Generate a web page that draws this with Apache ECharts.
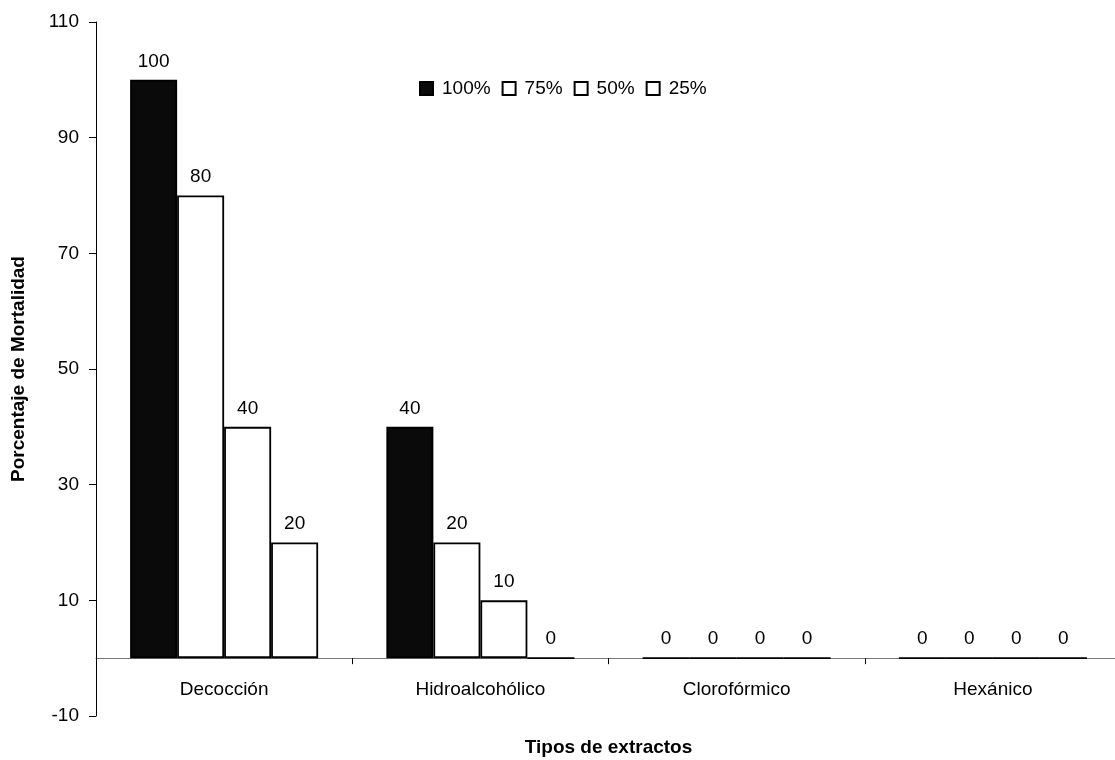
<!DOCTYPE html>
<html><head><meta charset="utf-8">
<script src="https://cdn.jsdelivr.net/npm/echarts@6/dist/echarts.min.js"></script>
<style>html,body{margin:0;padding:0;background:#fff}#c{width:1115px;height:760px}</style>
</head><body><div id="c"></div>
<script>
const categories = ['Decocción','Hidroalcohólico','Clorofórmico','Hexánico'];
const seriesNames = ['100%','75%','50%','25%'];
const s100 = [100, 40, 0, 0];
const s75 = [80, 20, 0, 0];
const s50 = [40, 10, 0, 0];
const s25 = [20, 0, 0, 0];
const yMin = -10, yMax = 110, yStep = 20;

const font = 'Liberation Sans, Arial, sans-serif';
const fills = ['#0a0a0a','#ffffff','#ffffff','#ffffff'];
const allData = [s100, s75, s50, s25];

const chart = echarts.init(document.getElementById('c'));
chart.setOption({
  animation: false,
  backgroundColor: '#fff',
  textStyle: {fontFamily: font},
  grid: {left: 96, top: 22, right: -6, bottom: 44, containLabel: false, outerBoundsMode: 'none'},
  legend: {
    data: seriesNames, left: 414, top: 74, itemWidth: 13, itemHeight: 13, itemGap: 11,
    textStyle: {fontSize: 19, color: '#000', fontFamily: font, padding: [0,0,0,4]},
    icon: 'rect'
  },
  xAxis: {
    type: 'category', data: categories,
    name: 'Tipos de extractos', nameLocation: 'middle', nameGap: 22,
    nameTextStyle: {fontSize: 19, fontWeight: 'bold', color: '#000', fontFamily: font},
    axisLine: {onZero: true, lineStyle: {color: '#777', width: 1}},
    axisTick: {show: true, length: 6, lineStyle: {color: '#000'}},
    axisLabel: {fontSize: 19, color: '#000', margin: -36, fontFamily: font},
    splitLine: {show: false}
  },
  yAxis: {
    type: 'value', min: yMin, max: yMax, interval: yStep,
    name: 'Porcentaje de Mortalidad', nameLocation: 'middle', nameGap: 68,
    nameTextStyle: {fontSize: 19, fontWeight: 'bold', color: '#000', fontFamily: font},
    axisLine: {show: true, lineStyle: {color: '#000', width: 1}},
    axisTick: {show: true, length: 7, lineStyle: {color: '#000'}},
    axisLabel: {fontSize: 19, color: '#000', margin: 17, fontFamily: font},
    splitLine: {show: false}
  },
  series: seriesNames.map((n, i) => ({
    name: n, type: 'bar', data: allData[i], barWidth: 47, barGap: '0%', barCategoryGap: '26%',
    itemStyle: {color: fills[i], borderColor: '#000', borderWidth: 1.8},
    label: {show: true, position: 'top', distance: 9, fontSize: 19, color: '#000', fontFamily: font}
  }))
});
</script></body></html>
